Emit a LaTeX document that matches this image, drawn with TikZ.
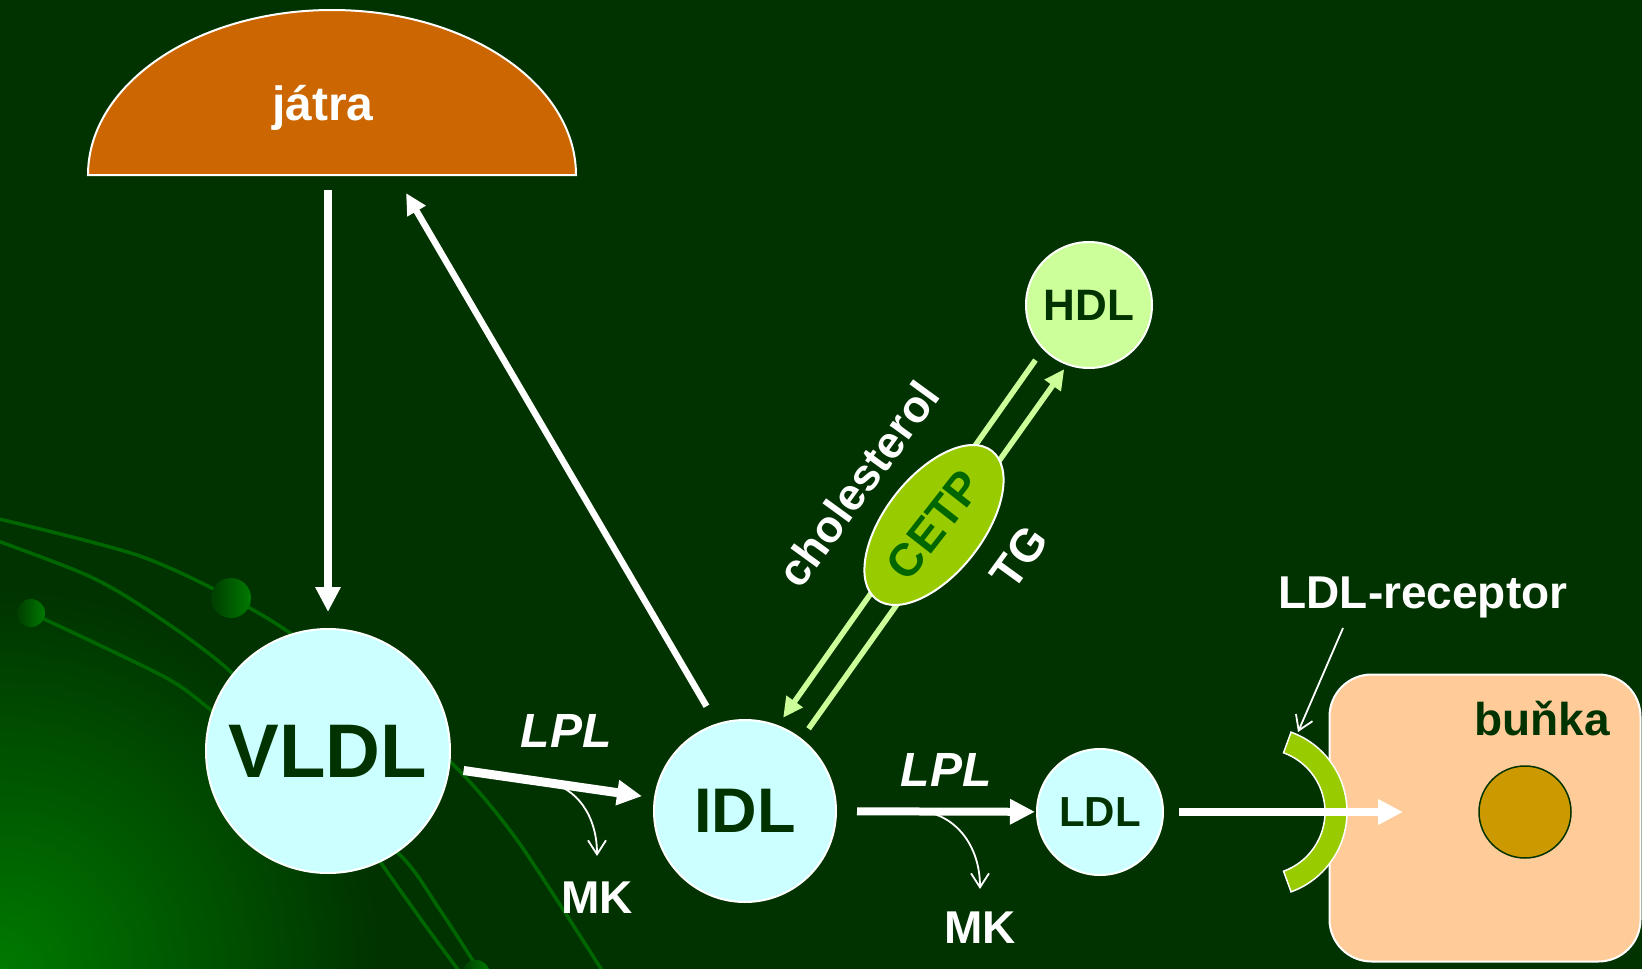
\documentclass[tikz,border=0pt]{standalone}
\usepackage{fontspec}
\setmainfont{Liberation Sans}
\usepackage{tikz}
\usetikzlibrary{shapes,arrows.meta,positioning,calc}
\definecolor{bg}{HTML}{003300}
\definecolor{glow}{HTML}{007A00}
\definecolor{fibrecol}{HTML}{006600}
\definecolor{lipocyan}{HTML}{CCFFFF}
\definecolor{palegreen}{HTML}{CCFF99}
\definecolor{cetpgreen}{HTML}{99CC00}
\definecolor{cetptext}{HTML}{006600}
\definecolor{liverorange}{HTML}{CC6600}
\definecolor{cellfill}{HTML}{FFCC99}
\definecolor{nucleusfill}{HTML}{CC9900}
\tikzset{basic/.style={draw=white,line width=2pt,circle,inner sep=0pt,text=bg}}
\tikzset{lipo/.style={basic,fill=lipocyan}}
\tikzset{lbl/.style={text=white,inner sep=0pt,font={\fontsize{46}{48}\selectfont\bfseries}}}
\tikzset{arrow/.style={draw=white,line width=8pt,>={Triangle[length=25pt,width=24pt]}}}
\tikzset{exch/.style={draw=palegreen,line width=5.5pt,>={Triangle[length=20pt,width=19pt]}}}
\tikzset{leak/.style={draw=white,line width=1.8pt,>={Straight Barb[length=14pt,width=18pt]}}}
\tikzset{cetp/.style={ellipse,draw=white,line width=2pt,fill=cetpgreen,text=cetptext,inner sep=0pt,minimum width=188pt,minimum height=98pt,font={\fontsize{46}{46}\selectfont\bfseries}}}
\tikzset{cellbox/.style={rectangle,draw=white,line width=2pt,fill=cellfill,rounded corners=42pt,minimum width=311pt,minimum height=287pt}}
\tikzset{nucleus/.style={circle,draw=bg,line width=1.5pt,fill=nucleusfill,minimum size=92pt,inner sep=0pt}}
\tikzset{fibre/.style={draw=fibrecol,line width=3.5pt}}
\tikzset{blob/.style={left color=fibrecol!60!black,right color=glow}}
\begin{document}
\begin{tikzpicture}[x=1pt,y=-1pt]
    \useasboundingbox (0,0) rectangle (1642,969);
    \fill[bg] (0,0) rectangle (1642,969);
    \begin{scope}
        \clip (0,0) rectangle (1642,969);
        \shade[inner color=glow,outer color=bg] (0,969) circle (380);
    \end{scope}

    % background fibres
    \draw[fibre] plot[smooth] coordinates {(-5,518) (137,555) (231,598) (300,640) (420,735) (470,782) (522,847) (605,975)};
    \draw[fibre] plot[smooth] coordinates {(-5,540) (91,577) (158,617) (232,673) (310,760) (381,863) (425,925) (462,975)};
    \draw[fibre] plot[smooth] coordinates {(31,613) (95,643) (170,680) (211,710) (310,790) (398,853) (440,910) (482,975)};
    \shade[blob] (231,598) circle (20);
    \shade[blob] (31,613) circle (14);
    \shade[blob] (476,974) circle (14);

    % liver
    \filldraw[fill=liverorange,draw=white,line width=2pt] (88,175) arc[start angle=180,end angle=360,x radius=244,y radius=165] -- cycle;
    \node[lbl,anchor=base,font={\fontsize{48}{48}\selectfont\bfseries}] (jatra) at (323,120) {játra};
    \coordinate (jatra-out) at (328,190);
    \coordinate (jatra-in) at (406,193);

    % cell
    \node[cellbox] (cell) at (1485,818) {};
    \node[nucleus] (nuc) at (1525,812) {};
    \node[lbl,text=bg,anchor=base] (bunka) at (1542,735) {buňka};

    % lipoproteins
    \node[lipo,minimum size=244pt,font={\fontsize{76}{76}\selectfont\bfseries}] (vldl) at (328,751) {VLDL};
    \node[lipo,minimum size=182pt,font={\fontsize{63}{63}\selectfont\bfseries}] (idl) at (745,811) {IDL};
    \node[lipo,minimum size=126pt,font={\fontsize{42}{42}\selectfont\bfseries}] (ldl) at (1100,812) {LDL};
    \node[basic,fill=palegreen,minimum size=126pt,font={\fontsize{44}{44}\selectfont\bfseries}] (hdl) at (1089,305) {HDL};

    \node[lbl,font={\fontsize{48}{48}\selectfont\bfseries\itshape}] (lpl1) at (566,731) {LPL};
    \node[lbl,font={\fontsize{48}{48}\selectfont\bfseries\itshape}] (lpl2) at (946,770) {LPL};
    \node[lbl] (mk1) at (597,898) {MK};
    \node[lbl] (mk2) at (980,928) {MK};
    \coordinate (split1) at ($(vldl)!0.53!(idl)$);
    \coordinate (split2) at ($(idl)!0.5!(ldl)$);

        \path[arrow,->,shorten >=16pt] (jatra-out) -- (vldl);
        \path[arrow,->,line width=6.5pt,>={Triangle[length=21pt,width=20pt]},shorten <=20pt] (idl.108) -- (jatra-in);
        \path[arrow,->,line width=9pt,shorten <=14pt,shorten >=12pt] (vldl) -- (idl);
        \path[arrow,->,shorten <=20pt,shorten >=1pt] (idl) -- (ldl);
        \path[leak,->,shorten >=26pt] (split1) .. controls (576,788) and (597,815) .. (mk1.north);
        \path[leak,->,shorten >=23pt] (split2) .. controls (955,815) and (980,845) .. (mk2.north);

    % CETP exchange
        \path[exch,->,shorten <=13pt,shorten >=9pt] (hdl.224) -- (idl.69);
        \path[exch,->,shorten <=12pt,shorten >=5pt] (idl.52) -- (hdl.250);
    \node[cetp,rotate=52] (cetpnode) at (934,525) {CETP};
    \node[lbl,rotate=54,font={\fontsize{45}{45}\selectfont\bfseries}] (chol) at (858,484) {cholesterol};
    \node[lbl,rotate=54] (tg) at (1019,557) {TG};

    % receptor
    \coordinate (rc) at (1262,812);
    \filldraw[fill=cetpgreen,draw=white,line width=1.5pt] ($(rc)+(-70:85)$) arc[start angle=-70,end angle=70,radius=85] -- ($(rc)+(70:63)$) arc[start angle=70,end angle=-70,radius=63] -- cycle;
    \coordinate (entry) at (1403,812);
        \path[arrow,->,shorten <=15pt] (ldl) -- (entry);
    \node[lbl,anchor=base] (receptor) at (1423,608) {LDL-receptor};
    \coordinate (rec-tail) at (1343,628);
    \coordinate (rec-top) at (1298,732);
        \path[leak,->] (rec-tail) -- (rec-top);
\end{tikzpicture}
\end{document}
